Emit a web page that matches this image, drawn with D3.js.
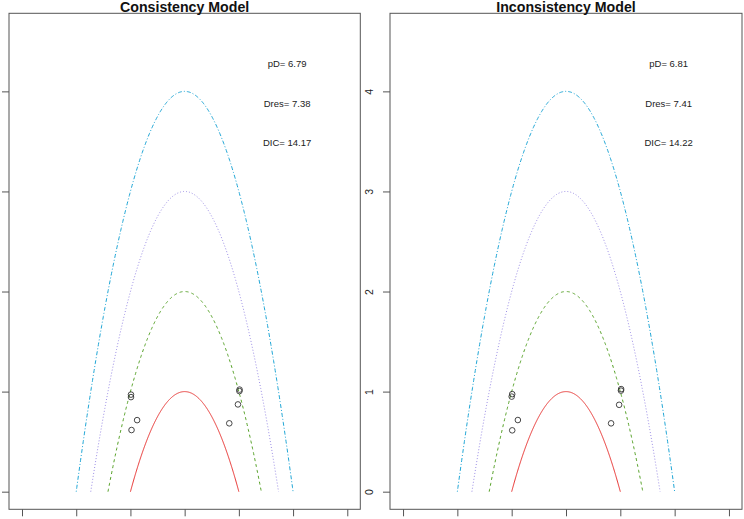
<!DOCTYPE html>
<html><head><meta charset="utf-8">
<script src="https://cdn.jsdelivr.net/npm/d3@7"></script>
<style>body{margin:0;background:#fff}svg{display:block}</style>
</head><body>
<script>
// ---- data ----
const modelTitles = ["Consistency Model", "Inconsistency Model"];
const pDValues = ["6.79", "6.81"];
const DresValues = ["7.38", "7.41"];
const DICValues = ["14.17", "14.22"];
const levels = [1, 2, 3, 4];
const levelColors = ["#e8302e", "#55a126", "#9c8ee6", "#1fa6d6"];
const levelDash = [null, "3,3", "1,2", "1,2,4,2"];
const consistX = [-0.99, -0.99, -0.877, -0.98, 1.013, 1.01, 0.983, 0.823];
const consistY = [0.97, 0.945, 0.715, 0.616, 1.02, 1.005, 0.872, 0.683];
const inconsX = [-0.99, -1.0, -0.886, -0.99, 1.015, 1.012, 0.978, 0.83];
const inconsY = [0.975, 0.95, 0.716, 0.613, 1.025, 1.01, 0.868, 0.683];
const xTicks = [-3, -2, -1, 0, 1, 2, 3];
const yTicks = [0, 1, 2, 3, 4];
const xDomain = [-3.24, 3.24];
const yDomain = [-0.176, 4.78];

(function () {
const W = 744, H = 519;
const svg = d3.select("body").append("svg").attr("width", W).attr("height", H);
const panels = [
  {x0: 9, x1: 360.3, px: consistX, py: consistY, yLabels: false},
  {x0: 390, x1: 742, px: inconsX, py: inconsY, yLabels: true}
];
const plotTop = 13.3, plotBottom = 509.3;
const font = "Liberation Sans, Arial, sans-serif";

panels.forEach((p, i) => {
  const x = d3.scaleLinear().domain(xDomain).range([p.x0, p.x1]);
  const y = d3.scaleLinear().domain(yDomain).range([plotBottom, plotTop]);
  const g = svg.append("g");

  // curves
  levels.forEach((c, k) => {
    const r = Math.sqrt(c);
    const xs = d3.range(-r, r + 1e-9, r / 200);
    const line = d3.line().x(d => x(d)).y(d => y(Math.max(0, c - d * d)));
    g.append("path").datum(xs).attr("d", line)
      .attr("fill", "none").attr("stroke", levelColors[k]).attr("stroke-width", 1)
      .attr("stroke-dasharray", levelDash[k]);
  });

  // points
  p.px.forEach((v, j) => {
    g.append("circle").attr("cx", x(v)).attr("cy", y(p.py[j])).attr("r", 2.8)
      .attr("fill", "none").attr("stroke", "#333").attr("stroke-width", 0.9);
  });

  // box
  g.append("rect").attr("x", p.x0).attr("y", plotTop).attr("width", p.x1 - p.x0).attr("height", plotBottom - plotTop)
    .attr("fill", "none").attr("stroke", "#555").attr("stroke-width", 1);

  // x axis ticks (no labels)
  const xa = d3.axisBottom(x).tickValues(xTicks).tickFormat("").tickSize(7).tickSizeOuter(0);
  const gx = g.append("g").attr("transform", `translate(0,${plotBottom})`).call(xa);
  gx.select(".domain").remove();
  gx.selectAll("line").attr("stroke", "#555");

  // y axis
  const ya = d3.axisLeft(y).tickValues(yTicks).tickSize(7).tickSizeOuter(0)
    .tickFormat(p.yLabels ? d3.format("d") : "");
  const gy = g.append("g").attr("transform", `translate(${p.x0},0)`).call(ya);
  gy.select(".domain").remove();
  gy.selectAll("line").attr("stroke", "#555");
  gy.selectAll(".tick text")
    .attr("font-family", font).attr("font-size", 10.5).attr("fill", "#222")
    .attr("text-anchor", "middle")
    .attr("x", 0).attr("y", 0).attr("dy", "0.35em")
    .attr("transform", "translate(-21,0) rotate(-90)");

  // title
  g.append("text").attr("x", (p.x0 + p.x1) / 2).attr("y", 12.2)
    .attr("text-anchor", "middle").attr("font-family", font)
    .attr("font-weight", "bold").attr("font-size", 14.2).attr("fill", "#111")
    .text(modelTitles[i]);

  // stats
  const stats = ["pD= " + pDValues[i], "Dres= " + DresValues[i], "DIC= " + DICValues[i]];
  const sy = [4.28, 3.88, 3.49];
  stats.forEach((s, k) => {
    g.append("text").attr("x", x(1.89)).attr("y", y(sy[k])).attr("dy", "0.35em")
      .attr("text-anchor", "middle").attr("font-family", font)
      .attr("font-size", 9.5).attr("fill", "#222").text(s);
  });
});
})();
</script>
</body></html>
